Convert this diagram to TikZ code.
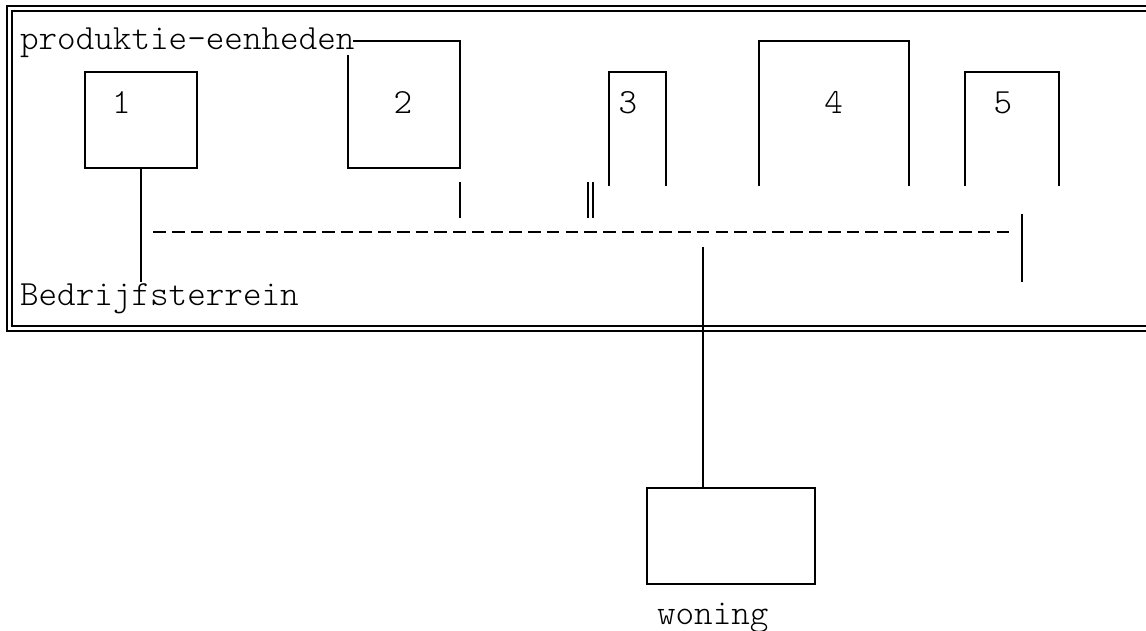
\documentclass[tikz,border=0pt]{standalone}
\usepackage{fontspec}
\newfontfamily\lmlight{Latin Modern Mono Light}
\begin{document}
\begin{tikzpicture}[x=1pt,y=-1pt,line width=2pt,
  lbl/.style={font=\lmlight\fontsize{35.4}{35.4}\selectfont,inner sep=0pt,outer sep=0pt},
  area/.style={inner sep=0pt,outer sep=0pt,draw=none},
  boxed/.style={draw,inner sep=0pt,outer sep=0pt},
  wire/.style={line width=2.1pt},
  dashwire/.style={line width=2.1pt,dash pattern=on 12.6pt off 6.14pt}]
\useasboundingbox (0,0) rectangle (1146,630);
% frame
\draw (1160,6) -- (7,6) -- (7,331) -- (1160,331);
\draw (1160,11) -- (12,11) -- (12,326) -- (1160,326);
% labels
\node[lbl,anchor=base west] (pe) at (20,49) {produktie-eenheden};
\node[lbl,anchor=base west] (bt) at (20,305) {Bedrijfsterrein};
\node[lbl,anchor=base west] (wn) at (657,624) {woning};
% unit 1
\node[boxed,line width=2.1pt,minimum width=112pt,minimum height=96pt] (b1) at (141,120) {};
\node[lbl,anchor=base] (n1) at (121.5,113) {1};
\coordinate (c1) at (141,282);
\draw[wire] (b1.south) -- (c1);
% unit 2
\node[area,minimum width=112pt,minimum height=127pt] (b2) at (404,104.5) {};
\node[lbl,anchor=base] (n2) at (403,113) {2};
\draw[wire] (353,41) -- (460,41) -- (460,168) -- (348,168) -- (348,55);
\coordinate (c2a) at (460,182);
\coordinate (c2b) at (460,218);
\draw[wire] (c2a) -- (c2b);
% double bar
\coordinate (d1a) at (587.7,182);
\coordinate (d1b) at (587.7,218);
\coordinate (d2a) at (593.3,182);
\coordinate (d2b) at (593.3,218);
\draw[line width=1.7pt] (d1a) -- (d1b) (d2a) -- (d2b);
% unit 3
\node[area,minimum width=56pt,minimum height=114pt] (b3) at (637.5,128.7) {};
\node[lbl,anchor=base] (n3) at (628,113) {3};
\draw[wire] (609.3,185.7) -- (609.3,71.7) -- (665.7,71.7) -- (665.7,185.7);
% unit 4
\node[area,minimum width=150pt,minimum height=145pt] (b4) at (834,113.2) {};
\node[lbl,anchor=base] (n4) at (833.7,113) {4};
\draw[wire] (759,185.7) -- (759,40.7) -- (909,40.7) -- (909,185.7);
% unit 5
\node[area,minimum width=94pt,minimum height=114pt] (b5) at (1012,128.7) {};
\node[lbl,anchor=base] (n5) at (1003,113) {5};
\draw[wire] (965,185.7) -- (965,72) -- (1059,72) -- (1059,185.7);
% dashed collector
\coordinate (da) at (153.3,231.7);
\coordinate (db) at (1009.3,231.7);
\draw[dashwire] (da) -- (db);
\coordinate (ra) at (1021.7,214);
\coordinate (rb) at (1021.7,282);
\draw[wire] (ra) -- (rb);
% woning
\node[boxed,line width=2.1pt,minimum width=168pt,minimum height=96pt] (wb) at (731,536) {};
\coordinate (wa) at (703,246.7);
\draw[wire] (wa) -- (wa |- wb.north);
\end{tikzpicture}
\end{document}
